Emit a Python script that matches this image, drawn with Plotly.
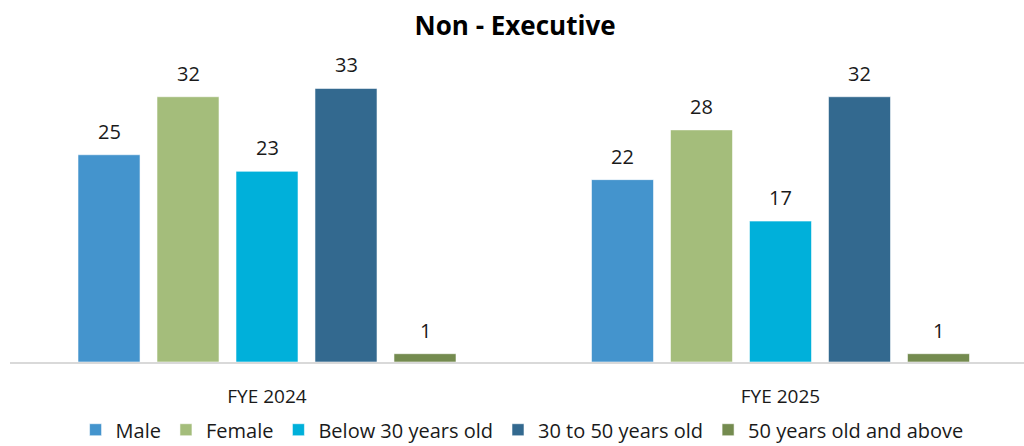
import plotly.graph_objects as go

categories = ["FYE 2024", "FYE 2025"]
series_names = ["Male", "Female", "Below 30 years old", "30 to 50 years old", "50 years old and above"]
male = [25, 22]
female = [32, 28]
below_30 = [23, 17]
age_30_50 = [33, 32]
above_50 = [1, 1]
series_values = [male, female, below_30, age_30_50, above_50]
colors = ["#4494CD", "#A4BD7B", "#00B0DA", "#33698F", "#748B4F"]

FONT = "Open Sans, Noto Sans, sans-serif"
BARGAP = 0.2308
BARGROUPGAP = 0.215

xpos = list(range(len(categories)))
fig = go.Figure()
n = len(series_names)
slot = (1 - BARGAP) / n
annotations = []
for k, (name, vals, col) in enumerate(zip(series_names, series_values, colors)):
    fig.add_trace(go.Bar(
        x=xpos, y=vals, name=name,
        marker=dict(color=col, line=dict(color="rgba(255,255,255,0.55)", width=1)),
    ))
    for i, v in zip(xpos, vals):
        annotations.append(dict(
            x=i + (k - (n - 1) / 2) * slot, y=v, xref="x", yref="y",
            text=str(v), showarrow=False, yanchor="bottom", yshift=8,
            font=dict(family=FONT, size=20, color="#1a1a1a"),
        ))

fig.update_layout(
    width=1024, height=446,
    margin=dict(l=10, r=0, t=47, b=84, autoexpand=False),
    paper_bgcolor="white", plot_bgcolor="white",
    barmode="group", bargap=BARGAP, bargroupgap=BARGROUPGAP,
    title=dict(text="<b>Non - Executive</b>", x=0.503, xanchor="center",
               y=0.942, yanchor="middle",
               font=dict(family=FONT, size=26, color="black")),
    xaxis=dict(range=[-0.5005, 1.4742], tickvals=xpos, ticktext=categories,
               showgrid=False, zeroline=False, showline=True, linecolor="#D9D9D9",
               linewidth=2, ticks="", ticklabelstandoff=16,
               tickfont=dict(family=FONT, size=19, color="#1a1a1a")),
    yaxis=dict(range=[0, 38.0], visible=False, showgrid=False, zeroline=False),
    legend=dict(orientation="h", x=0.505, xanchor="center",
                y=-0.215, yanchor="middle",
                font=dict(family=FONT, size=20, color="#1a1a1a"), traceorder="normal"),
    annotations=annotations,
    showlegend=True,
)

fig.write_html("out.html")
